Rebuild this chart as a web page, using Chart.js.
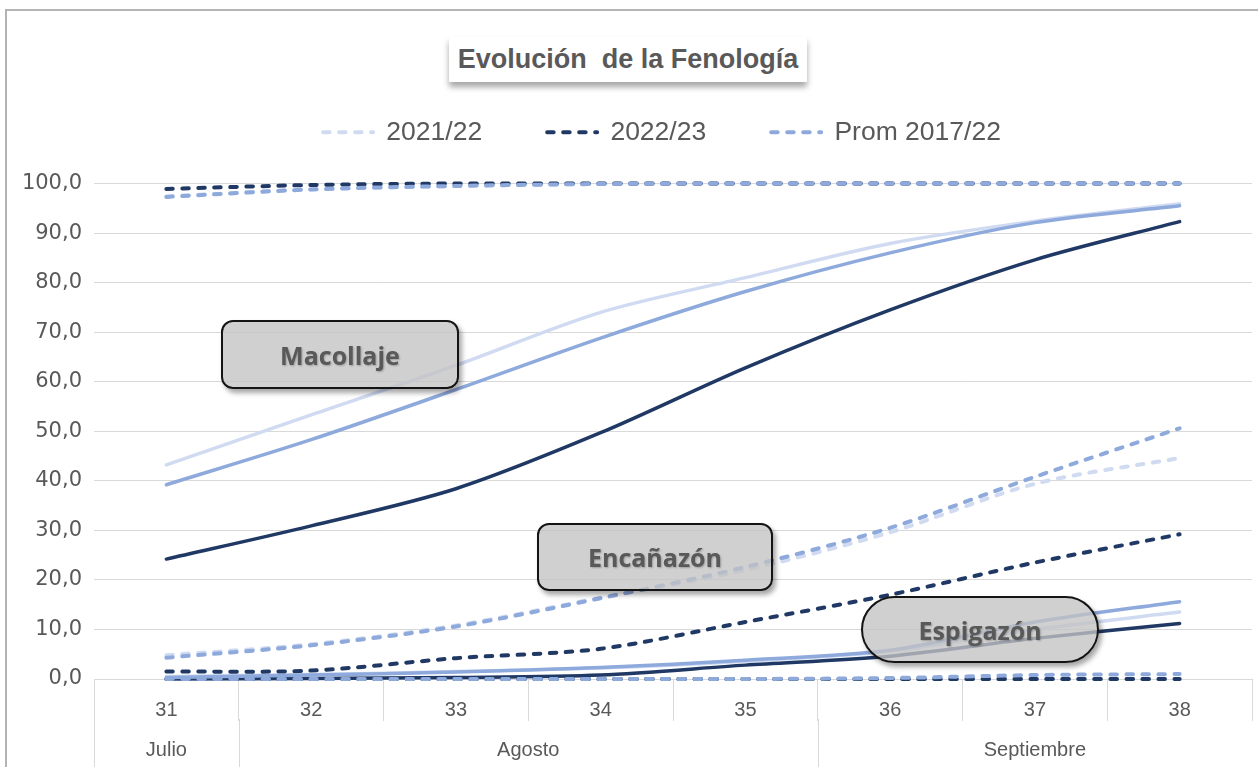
<!DOCTYPE html>
<html lang="es">
<head>
<meta charset="utf-8">
<title>Evolución de la Fenología</title>
<script src="https://cdn.jsdelivr.net/npm/chart.js@4.4.1/dist/chart.umd.min.js"></script>
<style>
  body { margin: 0; background: #fff; }
  #marco { position: relative; width: 1258px; height: 767px; overflow: hidden; background: #fff; }
  #borde { position: absolute; left: 5px; top: 9px; width: 1300px; height: 800px; border-left: 2px solid #b4b4b4; border-top: 2px solid #b4b4b4; }
  #titulo {
    position: absolute; left: 449px; top: 37px; width: 358px; height: 45px;
    background: #fff; box-shadow: 0 5px 6px rgba(0, 0, 0, 0.35);
    font: bold 27px 'Liberation Sans', sans-serif; color: #595959;
    text-align: center; line-height: 45px; white-space: pre;
  }
  canvas { position: absolute; left: 0; top: 0; }
  .etiqueta {
    position: absolute; box-sizing: border-box; border: 2.5px solid #141414; border-radius: 12px;
    background: rgba(195, 195, 195, 0.78); box-shadow: 3px 4px 5px rgba(0, 0, 0, 0.35);
    font: bold 25px 'Open Sans', sans-serif; color: #595959; text-shadow: 1px 1px 2px rgba(0, 0, 0, 0.25);
    display: flex; align-items: center; justify-content: center;
  }
</style>
</head>
<body>
<div id="marco">
  <div id="borde"></div>
  <div id="titulo">Evolución  de la Fenología</div>
  <canvas id="fenologia" width="1258" height="767"></canvas>
  <div class="etiqueta" style="left:221px;top:320px;width:238px;height:69px;">Macollaje</div>
  <div class="etiqueta" style="left:537px;top:523px;width:236px;height:68px;">Encañazón</div>
  <div class="etiqueta" style="left:861px;top:596px;width:238px;height:67px;border-radius:34px;">Espigazón</div>
</div>
<script>
// Semanas y meses del eje x
const semanas = ['31', '32', '33', '34', '35', '36', '37', '38'];
const meses = ['Julio', 'Agosto', 'Septiembre'];
const semanasPorMes = [1, 4, 3];
const campanias = ['2021/22', '2022/23', 'Prom 2017/22'];

// Etapa superior (cerca de 100 %), líneas punteadas
const sup2122 = [97.4, 98.8, 99.5, 99.9, 100, 100, 100, 100];
const sup2223 = [98.9, 99.7, 100, 100, 100, 100, 100, 100];
const supProm = [97.3, 98.8, 99.5, 99.9, 100, 100, 100, 100];

// Macollaje, líneas continuas
const mac2122 = [43.2, 53.3, 63.3, 74.0, 81.0, 87.9, 92.4, 95.9];
const mac2223 = [24.2, 30.9, 38.4, 49.7, 62.8, 74.5, 84.6, 92.3];
const macProm = [39.2, 48.3, 58.4, 68.8, 78.2, 86.0, 92.1, 95.5];

// Encañazón, líneas punteadas
const enc2122 = [4.8, 7.0, 10.8, 16.4, 22.0, 29.6, 39.4, 44.6];
const enc2223 = [1.5, 1.7, 4.2, 6.1, 11.5, 17.0, 23.5, 29.2];
const encProm = [4.3, 6.8, 10.6, 16.3, 22.6, 30.5, 40.8, 50.6];

// Espigazón, líneas continuas
const esp2122 = [0.5, 0.9, 1.5, 2.2, 3.6, 5.6, 10.0, 13.5];
const esp2223 = [0.0, 0.1, 0.3, 0.8, 2.8, 4.6, 8.2, 11.2];
const espProm = [0.3, 0.8, 1.4, 2.3, 3.8, 5.8, 11.5, 15.6];

// Etapa inferior (cerca de 0 %), líneas punteadas
const inf2122 = [0, 0, 0, 0, 0, 0, 0, 0];
const inf2223 = [0, 0, 0, 0, 0, 0, 0, 0];
const infProm = [0, 0, 0, 0, 0, 0.2, 0.8, 1.0];

const colorClaro = '#D0DBF2';
const colorOscuro = '#203864';
const colorMedio = '#8EA9DB';
const textoGris = '#595959';
const fuenteEje = "'Liberation Sans', sans-serif";

// order: el promedio queda dibujado encima
function serie(label, data, color, punteada, orden) {
    return {
        label: label,
        data: data,
        xAxisID: 'x',
        order: orden,
        borderColor: color,
        backgroundColor: color,
        borderWidth: punteada ? 4 : 3.5,
        borderDash: punteada ? [6.5, 9.5] : [],
        borderCapStyle: 'round',
        pointRadius: 0,
        pointHoverRadius: 0,
        tension: 0.3,
        fill: false,
        clip: false
    };
}

// Etiquetas de meses y separadores largos bajo el eje x
const mesesPlugin = {
    id: 'meses',
    afterLayout(chart) {
        // centra la leyenda sobre el área de trazado, como en el original
        chart.legend.left += 72;
    },
    afterDraw(chart) {
        const ctx = chart.ctx;
        const x = chart.scales.x;
        const paso = x.width / semanas.length;
        ctx.save();
        ctx.strokeStyle = '#d9d9d9';
        ctx.lineWidth = 1;
        ctx.fillStyle = textoGris;
        ctx.font = '20px ' + fuenteEje;
        ctx.textAlign = 'center';
        ctx.textBaseline = 'middle';
        let inicio = 0;
        meses.forEach((mes, i) => {
            const fin = inicio + semanasPorMes[i];
            const x0 = x.getPixelForValue(inicio) - paso / 2;
            const x1 = x.getPixelForValue(fin - 1) + paso / 2;
            ctx.beginPath();
            ctx.moveTo(Math.round(x0) + 0.5, x.top + 40);
            ctx.lineTo(Math.round(x0) + 0.5, chart.height);
            ctx.stroke();
            ctx.fillText(mes, (x0 + x1) / 2, 750);
            inicio = fin;
        });
        ctx.restore();
    }
};

const ctx = document.getElementById('fenologia').getContext('2d');
const fenologiaChart = new Chart(ctx, {
    type: 'line',
    data: {
        labels: semanas,
        datasets: [
            serie(campanias[0], sup2122, colorClaro, true, 2),
            serie(campanias[1], sup2223, colorOscuro, true, 1),
            serie(campanias[2], supProm, colorMedio, true, 0),
            serie(campanias[0], mac2122, colorClaro, false, 2),
            serie(campanias[1], mac2223, colorOscuro, false, 1),
            serie(campanias[2], macProm, colorMedio, false, 0),
            serie(campanias[0], enc2122, colorClaro, true, 2),
            serie(campanias[1], enc2223, colorOscuro, true, 1),
            serie(campanias[2], encProm, colorMedio, true, 0),
            serie(campanias[0], esp2122, colorClaro, false, 2),
            serie(campanias[1], esp2223, colorOscuro, false, 1),
            serie(campanias[2], espProm, colorMedio, false, 0),
            serie(campanias[0], inf2122, colorClaro, true, 2),
            serie(campanias[1], inf2223, colorOscuro, true, 1),
            serie(campanias[2], infProm, colorMedio, true, 0)
        ]
    },
    options: {
        responsive: false,
        animation: false,
        events: [],
        layout: {
            padding: { top: 54, left: 0, right: 6, bottom: 0 }
        },
        plugins: {
            title: { display: false },
            tooltip: { enabled: false },
            legend: {
                position: 'top',
                labels: {
                    usePointStyle: true,
                    pointStyle: 'line',
                    pointStyleWidth: 50,
                    padding: 65,
                    color: textoGris,
                    font: { family: fuenteEje, size: 26.5 },
                    generateLabels: function(chart) {
                        const base = Chart.defaults.plugins.legend.labels.generateLabels(chart);
                        return base
                            .filter(item => item.datasetIndex < 3)
                            .sort((a, b) => a.datasetIndex - b.datasetIndex)
                            .map(item => {
                                const ds = chart.data.datasets[item.datasetIndex];
                                item.strokeStyle = ds.borderColor;
                                item.lineWidth = ds.borderWidth;
                                item.lineDash = ds.borderDash;
                                item.lineCap = ds.borderCapStyle;
                                return item;
                            });
                    }
                }
            }
        },
        scales: {
            xSup: {
                type: 'category',
                position: 'top',
                labels: semanas,
                offset: true,
                grid: { display: false },
                border: { display: false },
                ticks: { display: false },
                afterFit: function(scale) { scale.height = 28; }
            },
            x: {
                type: 'category',
                position: 'bottom',
                offset: true,
                grid: {
                    offset: true,
                    drawOnChartArea: false,
                    drawTicks: true,
                    tickLength: 42,
                    color: '#d9d9d9'
                },
                border: { display: false },
                ticks: {
                    color: textoGris,
                    font: { family: fuenteEje, size: 20 },
                    padding: -23,
                    maxRotation: 0,
                    autoSkip: false
                },
                afterFit: function(scale) { scale.height = 88; }
            },
            y: {
                min: 0,
                max: 100,
                grid: { color: '#d9d9d9', drawTicks: false },
                border: { display: false },
                ticks: {
                    stepSize: 10,
                    padding: 12,
                    color: textoGris,
                    font: { family: "'DejaVu Sans', sans-serif", size: 21 },
                    callback: function(value) {
                        return value.toFixed(1).replace('.', ',');
                    }
                },
                afterFit: function(scale) { scale.width = 94; }
            }
        }
    },
    plugins: [mesesPlugin]
});
</script>
</body>
</html>
